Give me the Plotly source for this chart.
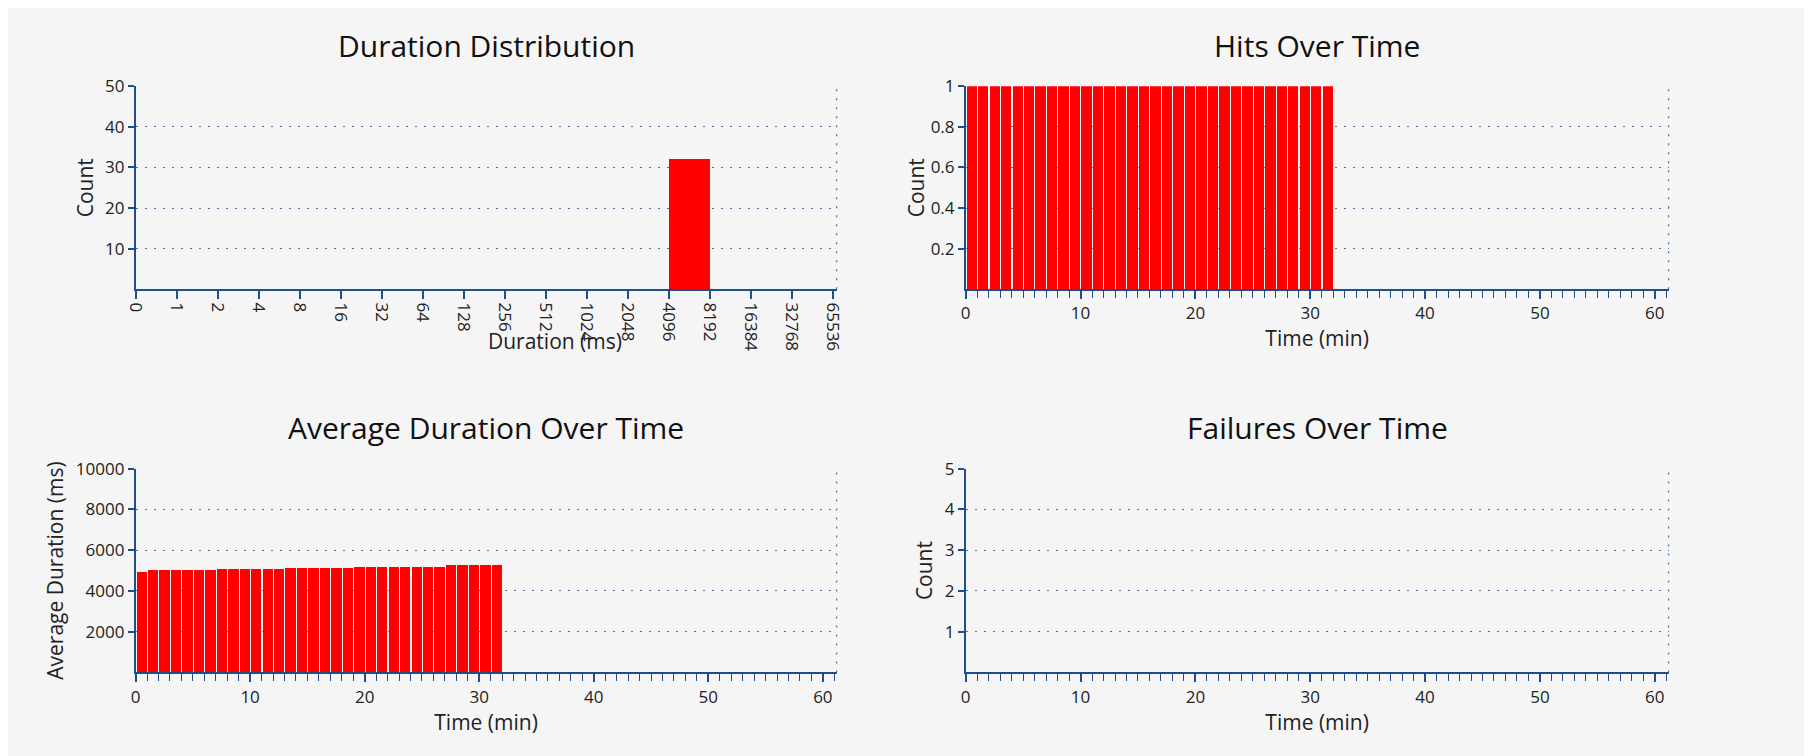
import plotly.graph_objects as go

# data
bin_labels = ["0", "1", "2", "4", "8", "16", "32", "64", "128", "256", "512",
              "1024", "2048", "4096", "8192", "16384", "32768", "65536"]
bin_counts = [0, 0, 0, 0, 0, 0, 0, 0, 0, 0, 0, 0, 0, 32, 0, 0, 0]

minutes = list(range(32))
hits = [1] * 32
avg_duration = ([4960] + [5030] * 6 + [5090] * 6 + [5150] * 6
                + [5210] * 8 + [5270] * 5)
failures = []

RED = "#ff0000"
AXIS = "#1f4e8c"
GRID = "#4a78b0"
BG = "#f5f5f5"
FONT = "Open Sans"
DOTS = "2px,7px"

fig = go.Figure()

# Duration distribution: bars sit between category boundaries
fig.add_trace(go.Bar(x=[i + 0.5 for i in range(len(bin_counts))], y=bin_counts,
                     width=1, marker=dict(color=RED, line=dict(width=0)),
                     xaxis="x", yaxis="y"))
fig.add_trace(go.Bar(x=[m + 0.5 for m in minutes], y=hits, width=0.9,
                     marker=dict(color=RED, line=dict(width=0)),
                     xaxis="x2", yaxis="y2"))
fig.add_trace(go.Bar(x=[m + 0.5 for m in minutes], y=avg_duration, width=0.9,
                     marker=dict(color=RED, line=dict(width=0)),
                     xaxis="x3", yaxis="y3"))
fig.add_trace(go.Bar(x=[m + 0.5 for m in range(len(failures))], y=failures,
                     width=0.9, marker=dict(color=RED),
                     xaxis="x4", yaxis="y4"))

dom_x = [[0.065, 0.456], [0.528, 0.920]]
dom_y = [[0.638, 0.911], [0.123, 0.397]]

common_x = dict(showgrid=False, zeroline=False, showline=True, linecolor=AXIS,
                linewidth=1.5, ticks="outside", tickcolor=AXIS, tickwidth=1.5,
                tickfont=dict(size=17, color="#222"),
                title_font=dict(size=21, color="#222"), title_standoff=4)
common_y = dict(showgrid=True, gridcolor=GRID, griddash=DOTS, gridwidth=1.3,
                zeroline=False, showline=True, linecolor=AXIS, linewidth=1.5,
                ticks="outside", tickcolor=AXIS, tickwidth=1.5, ticklen=6,
                tickfont=dict(size=17, color="#222"),
                title_font=dict(size=21, color="#222"), title_standoff=6)

time_x = dict(common_x, range=[0, 61.2], tickvals=list(range(0, 61, 10)),
              ticklen=8, minor=dict(dtick=1, tick0=0, ticks="outside",
                                    ticklen=7, tickcolor=AXIS, tickwidth=1.2),
              title_text="Time (min)")

fig.update_layout(
    xaxis=dict(common_x, domain=dom_x[0], anchor="y", range=[0, 17.1],
               tickvals=list(range(len(bin_labels))), ticktext=bin_labels,
               tickangle=90, ticklen=8),
    yaxis=dict(common_y, domain=dom_y[0], anchor="x", range=[0, 50],
               tickvals=[10, 20, 30, 40, 50], title_text="Count"),
    xaxis2=dict(time_x, domain=dom_x[1], anchor="y2"),
    yaxis2=dict(common_y, domain=dom_y[0], anchor="x2", range=[0, 1],
                tickvals=[0.2, 0.4, 0.6, 0.8, 1],
                ticktext=["0.2", "0.4", "0.6", "0.8", "1"],
                title_text="Count", title_standoff=0),
    xaxis3=dict(time_x, domain=dom_x[0], anchor="y3"),
    yaxis3=dict(common_y, domain=dom_y[1], anchor="x3", range=[0, 10000],
                tickvals=[2000, 4000, 6000, 8000, 10000],
                ticktext=["2000", "4000", "6000", "8000", "10000"],
                title_text="Average Duration (ms)"),
    xaxis4=dict(time_x, domain=dom_x[1], anchor="y4"),
    yaxis4=dict(common_y, domain=dom_y[1], anchor="x4", range=[0, 5],
                tickvals=[1, 2, 3, 4, 5], title_text="Count"),
    paper_bgcolor=BG, plot_bgcolor=BG,
    font=dict(family=FONT, color="#222"),
    showlegend=False, bargap=0,
    margin=dict(l=0, r=0, t=0, b=0),
    width=1812, height=756,
)

# the reference draws this axis title over the rotated tick labels
fig.add_annotation(text="Duration (ms)", x=sum(dom_x[0]) / 2, y=0.569,
                   xref="paper", yref="paper", showarrow=False,
                   font=dict(size=21, color="#222"))

titles = ["Duration Distribution", "Hits Over Time",
          "Average Duration Over Time", "Failures Over Time"]
for i, t in enumerate(titles):
    dx = dom_x[i % 2]
    dy = dom_y[i // 2]
    fig.add_annotation(text=t, x=(dx[0] + dx[1]) / 2, y=dy[1] + 0.025,
                       xref="paper", yref="paper", xanchor="center",
                       yanchor="bottom", showarrow=False,
                       font=dict(size=30, color="#111"))
    # dotted right border
    suffix = "" if i == 0 else str(i + 1)
    fig.add_shape(type="line", xref=f"x{suffix} domain", yref=f"y{suffix} domain",
                  x0=1, x1=1, y0=0, y1=1,
                  line=dict(color=GRID, width=1.3, dash=DOTS))

fig.write_html("out.html")
